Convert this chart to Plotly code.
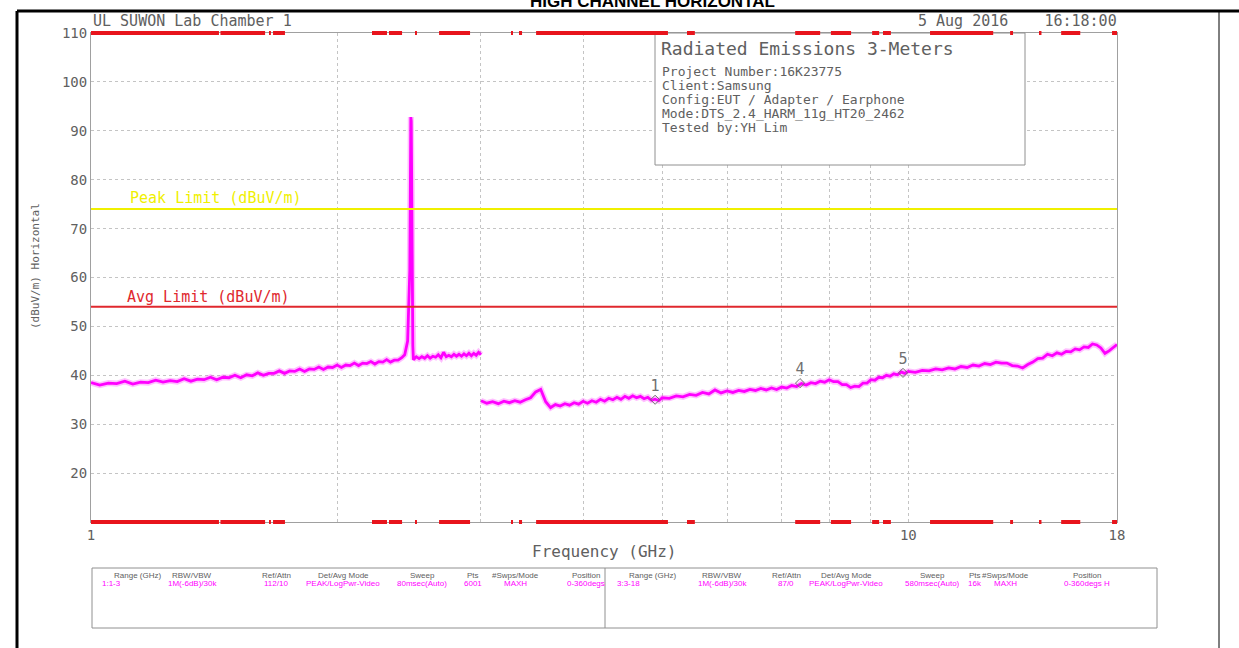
import plotly.graph_objects as go
import math

# ---------------- data ----------------
seg1_freq = [1.000, 1.025, 1.050, 1.075, 1.100, 1.125, 1.150, 1.175, 1.200, 1.225, 1.250, 1.275,
             1.300, 1.325, 1.350, 1.375, 1.400, 1.425, 1.450, 1.475, 1.500, 1.525, 1.550, 1.575,
             1.600, 1.625, 1.650, 1.675, 1.700, 1.725, 1.750, 1.775, 1.800, 1.825, 1.850, 1.875,
             1.900, 1.925, 1.950, 1.975, 2.000, 2.025, 2.050, 2.075, 2.100, 2.125, 2.150, 2.175,
             2.200, 2.225, 2.250, 2.275, 2.300, 2.325, 2.350, 2.375, 2.400, 2.420, 2.440, 2.450,
             2.455, 2.458, 2.462, 2.465, 2.468, 2.472, 2.476, 2.480, 2.500, 2.520, 2.540, 2.560,
             2.580, 2.600, 2.620, 2.640, 2.660, 2.680, 2.700, 2.720, 2.740, 2.760, 2.780, 2.800,
             2.820, 2.840, 2.860, 2.880, 2.900, 2.920, 2.940, 2.960, 2.980, 3.000]
seg1_level = [38.5, 38.0, 38.4, 38.3, 38.8, 38.2, 38.6, 38.5, 39.0, 38.6, 38.9, 38.7,
              39.3, 38.8, 39.2, 39.1, 39.6, 39.1, 39.6, 39.5, 40.0, 39.5, 40.1, 39.9,
              40.5, 40.0, 40.4, 40.4, 40.9, 40.4, 40.9, 40.8, 41.3, 40.8, 41.3, 41.2,
              41.7, 41.2, 41.7, 41.6, 42.1, 41.6, 42.1, 42.0, 42.5, 42.0, 42.5, 42.4,
              42.8, 42.3, 42.8, 42.7, 43.2, 42.7, 43.1, 43.1, 43.6, 44.2, 47.0, 55.0,
              61.5, 75.0, 92.8, 92.0, 80.0, 58.0, 46.0, 43.2, 43.8, 43.4, 43.8, 43.5,
              44.0, 43.5, 43.9, 43.7, 44.2, 43.6, 44.7, 43.8, 44.1, 43.8, 44.3, 43.9,
              44.3, 43.9, 44.4, 44.0, 44.5, 44.0, 44.5, 44.1, 44.7, 44.2]

seg2_freq = [3.00, 3.05, 3.10, 3.15, 3.20, 3.25, 3.30, 3.35, 3.40, 3.45, 3.50, 3.55, 3.60, 3.65,
             3.70, 3.75, 3.80, 3.85, 3.90, 3.95, 4.00, 4.05, 4.10, 4.15, 4.20, 4.25, 4.30, 4.35,
             4.40, 4.45, 4.50, 4.55, 4.60, 4.65, 4.70, 4.75, 4.80, 4.85, 4.90, 4.95, 5.00,
             5.1, 5.2, 5.3, 5.4, 5.5, 5.6, 5.7, 5.8, 5.9, 6.0, 6.1, 6.2, 6.3, 6.4, 6.5, 6.6,
             6.7, 6.8, 6.9, 7.0, 7.1, 7.2, 7.3, 7.4, 7.5, 7.6, 7.7, 7.8, 7.9, 8.0, 8.1, 8.2,
             8.3, 8.4, 8.5, 8.6, 8.7, 8.8, 8.9, 9.0, 9.1, 9.2, 9.3, 9.4, 9.5, 9.6, 9.7, 9.8,
             9.9, 10.0, 10.2, 10.4, 10.6, 10.8, 11.0, 11.2, 11.4, 11.6, 11.8, 12.0, 12.2, 12.4,
             12.6, 12.8, 13.0, 13.2, 13.4, 13.6, 13.8, 14.0, 14.2, 14.4, 14.6, 14.8, 15.0,
             15.2, 15.4, 15.6, 15.8, 16.0, 16.2, 16.4, 16.6, 16.8, 17.0, 17.2, 17.4, 17.6,
             17.8, 18.0]
seg2_level = [34.8, 34.3, 34.6, 34.2, 34.7, 34.4, 34.8, 34.5, 35.0, 35.4, 36.6, 37.1, 34.6, 33.4,
              34.0, 33.7, 34.2, 33.9, 34.4, 34.1, 34.7, 34.3, 34.8, 34.5, 35.1, 34.7, 35.3, 35.0,
              35.5, 35.1, 35.7, 35.3, 35.8, 35.4, 35.7, 35.2, 35.5, 34.9, 35.1, 34.8, 35.4,
              35.3, 35.8, 35.6, 36.1, 35.9, 36.5, 36.2, 37.0, 36.4, 36.8, 36.5, 36.9, 36.7, 37.1,
              36.9, 37.3, 37.0, 37.4, 37.1, 37.6, 37.4, 37.9, 37.7, 38.3, 38.0, 38.5, 38.3, 38.8,
              38.6, 39.1, 38.7, 38.7, 38.1, 38.1, 37.5, 37.8, 37.7, 38.4, 38.4, 39.1, 39.0, 39.6,
              39.5, 40.0, 39.8, 40.3, 40.1, 40.7, 40.4, 40.8, 40.6, 41.0, 40.9, 41.3, 41.1, 41.5,
              41.3, 41.8, 41.6, 42.1, 41.9, 42.4, 42.2, 42.7, 42.5, 42.5, 42.0, 41.9, 41.5, 42.2,
              42.7, 43.4, 43.5, 44.3, 44.0, 44.6, 44.3, 44.9, 44.8, 45.4, 45.2, 45.8, 45.7, 46.4,
              46.2, 45.6, 44.5, 45.0, 45.6, 46.3]

marker_labels = ["1", "4", "5"]
marker_freq = [4.90, 7.37, 9.85]
marker_level = [35.0, 38.4, 40.5]

peak_limit = 74.0
avg_limit = 54.0

# red band indicators (GHz start, end) along top & bottom edges
red_bands = [(1.0, 1.434), (1.44, 1.633), (1.651, 1.660), (1.670, 1.727), (2.207, 2.302),
             (2.315, 2.402), (2.491, 2.505), (2.666, 2.909), (3.265, 3.283), (3.339, 3.368),
             (3.504, 5.08), (5.36, 5.48), (7.27, 7.80), (8.04, 8.51), (9.03, 9.21), (9.31, 9.52),
             (10.63, 12.70), (13.32, 13.43), (14.45, 14.55), (15.38, 16.23), (17.75, 18.0)]

x_tickvals = [1, 2, 3, 4, 5, 6, 7, 8, 9, 10, 18]
x_ticktext = ["1", "", "", "", "", "", "", "", "", "10", "18"]
y_tickvals = [20, 30, 40, 50, 60, 70, 80, 90, 100, 110]

info_title = "Radiated Emissions 3-Meters"
info_lines = ["Project Number:16K23775", "Client:Samsung", "Config:EUT / Adapter / Earphone",
              "Mode:DTS_2.4_HARM_11g_HT20_2462", "Tested by:YH Lim"]

table_headers = ["Range (GHz)", "RBW/VBW", "Ref/Attn", "Det/Avg Mode", "Sweep", "Pts",
                 "#Swps/Mode", "Position"]
table_left = ["1:1-3", "1M(-6dB)/30k", "112/10", "PEAK/LogPwr-Video", "80msec(Auto)", "6001",
              "MAXH", "0-360degs"]
table_right = ["3:3-18", "1M(-6dB)/30k", "87/0", "PEAK/LogPwr-Video", "580msec(Auto)", "16k",
               "MAXH", "0-360degs H"]

# ---------------- layout helpers ----------------
W, H = 1239, 648
L, R, T, B = 91, 1117, 33, 522
MONO = "DejaVu Sans Mono"
GRAY = "#606060"
MAG = "#ff00ff"


def px(p):
    return (p - L) / (R - L)


def py(p):
    return (B - p) / (B - T)


fig = go.Figure()

for fx, lv in ((seg1_freq, seg1_level), (seg2_freq, seg2_level)):
    fig.add_trace(go.Scatter(x=fx, y=lv, mode="lines",
                             line=dict(color="rgba(255,0,255,0.25)", width=6),
                             showlegend=False, hoverinfo="skip"))
    fig.add_trace(go.Scatter(x=fx, y=lv, mode="lines",
                             line=dict(color=MAG, width=2.8), showlegend=False, hoverinfo="skip"))

# limit lines
fig.add_trace(go.Scatter(x=[1, 18], y=[peak_limit, peak_limit], mode="lines",
                         line=dict(color="#f0f000", width=2), showlegend=False, hoverinfo="skip"))
fig.add_trace(go.Scatter(x=[1, 18], y=[avg_limit, avg_limit], mode="lines",
                         line=dict(color="#e0282e", width=2), showlegend=False, hoverinfo="skip"))

# markers
fig.add_trace(go.Scatter(x=marker_freq, y=marker_level, mode="markers+text",
                         marker=dict(symbol="diamond-open", size=7, color="#707070", line=dict(width=1)),
                         text=marker_labels, textposition="top center",
                         textfont=dict(family=MONO, size=15, color="#707070"),
                         showlegend=False, hoverinfo="skip"))

shapes = []
# info box
shapes.append(dict(type="rect", xref="paper", yref="paper", x0=px(655), x1=px(1025),
                   y0=py(165), y1=py(33), line=dict(color="#909090", width=1),
                   fillcolor="white", layer="above"))
# red band indicators
for a, b in red_bands:
    for yy in (0, 1):
        shapes.append(dict(type="line", xref="x", yref="paper", x0=a, x1=b, y0=yy, y1=yy,
                           line=dict(color="#e8141c", width=4), layer="above"))
# bottom table
shapes.append(dict(type="rect", xref="paper", yref="paper", x0=px(92), x1=px(1157),
                   y0=py(628), y1=py(568), line=dict(color="#909090", width=1)))
shapes.append(dict(type="line", xref="paper", yref="paper", x0=px(605), x1=px(605),
                   y0=py(628), y1=py(568), line=dict(color="#909090", width=1)))
# page frame
shapes.append(dict(type="line", xref="paper", yref="paper", x0=px(17), x1=px(1239),
                   y0=py(11), y1=py(11), line=dict(color="black", width=3)))
shapes.append(dict(type="line", xref="paper", yref="paper", x0=px(17), x1=px(17),
                   y0=py(11), y1=py(648), line=dict(color="black", width=3)))
shapes.append(dict(type="line", xref="paper", yref="paper", x0=px(1219), x1=px(1219),
                   y0=py(11), y1=py(648), line=dict(color="black", width=1)))

ann = []
ann.append(dict(text="<b>HIGH CHANNEL HORIZONTAL</b>", xref="paper", yref="paper",
                x=px(652), y=py(1), xanchor="center", yanchor="middle", showarrow=False,
                font=dict(family="Liberation Sans", size=17, color="black")))
ann.append(dict(text="UL SUWON Lab Chamber 1", xref="paper", yref="paper", x=px(91), y=py(21),
                xanchor="left", yanchor="middle", showarrow=False,
                font=dict(family=MONO, size=15, color=GRAY)))
ann.append(dict(text="5 Aug 2016    16:18:00", xref="paper", yref="paper", x=px(1119), y=py(21),
                xanchor="right", yanchor="middle", showarrow=False,
                font=dict(family=MONO, size=15, color=GRAY)))
ann.append(dict(text=info_title, xref="paper", yref="paper", x=px(659), y=py(48),
                xanchor="left", yanchor="middle", showarrow=False,
                font=dict(family=MONO, size=18, color=GRAY)))
for i, line in enumerate(info_lines):
    ann.append(dict(text=line, xref="paper", yref="paper", x=px(660), y=py(71 + 14.2 * i),
                    xanchor="left", yanchor="middle", showarrow=False,
                    font=dict(family=MONO, size=13, color=GRAY)))
ann.append(dict(text="Peak Limit (dBuV/m)", xref="paper", yref="paper", x=px(128), y=py(198),
                xanchor="left", yanchor="middle", showarrow=False,
                font=dict(family=MONO, size=15, color="#f0f000")))
ann.append(dict(text="Avg Limit (dBuV/m)", xref="paper", yref="paper", x=px(125), y=py(297),
                xanchor="left", yanchor="middle", showarrow=False,
                font=dict(family=MONO, size=15, color="#e0282e")))
ann.append(dict(text="(dBuV/m) Horizontal", xref="paper", yref="paper", x=px(35), y=py(266),
                xanchor="center", yanchor="middle", textangle=-90, showarrow=False,
                font=dict(family=MONO, size=11, color=GRAY)))
ann.append(dict(text="Frequency (GHz)", xref="paper", yref="paper", x=px(604), y=py(551),
                xanchor="center", yanchor="middle", showarrow=False,
                font=dict(family=MONO, size=16, color=GRAY)))

col_left = [137, 192, 276, 343, 422, 473, 515, 586]
col_right = [652, 722, 786, 846, 932, 975, 1005, 1087]
for half_cols, vals, start in ((col_left, table_left, 100), (col_right, table_right, 615)):
    for j, (hdr, cx) in enumerate(zip(table_headers, half_cols)):
        ann.append(dict(text=hdr, xref="paper", yref="paper", x=px(cx), y=py(575),
                        xanchor="center", yanchor="middle", showarrow=False,
                        font=dict(family="Liberation Sans", size=8, color=GRAY)))
        ann.append(dict(text=vals[j], xref="paper", yref="paper",
                        x=px(start if j == 0 else cx), y=py(583),
                        xanchor="left" if j == 0 else "center", yanchor="middle", showarrow=False,
                        font=dict(family="Liberation Sans", size=8, color=MAG)))

fig.update_layout(
    width=W, height=H,
    margin=dict(l=L, r=W - R, t=T, b=H - B),
    paper_bgcolor="white", plot_bgcolor="white",
    shapes=shapes, annotations=ann,
    xaxis=dict(type="log", range=[0, math.log10(18)], tickvals=x_tickvals, ticktext=x_ticktext,
               showgrid=True, gridcolor="#c4c4c4", griddash="dot", gridwidth=1,
               showline=True, linecolor="#a0a0a0", mirror=True, ticks="", zeroline=False,
               tickfont=dict(family=MONO, size=14, color=GRAY)),
    yaxis=dict(range=[10, 110], tickvals=y_tickvals, showgrid=True, gridcolor="#c4c4c4",
               griddash="dot", gridwidth=1, showline=True, linecolor="#a0a0a0", mirror=True,
               ticks="", zeroline=False, tickfont=dict(family=MONO, size=14, color=GRAY)),
)

fig.write_html("out.html", config={"displayModeBar": False},
               post_script="document.body.style.margin='0px';")
